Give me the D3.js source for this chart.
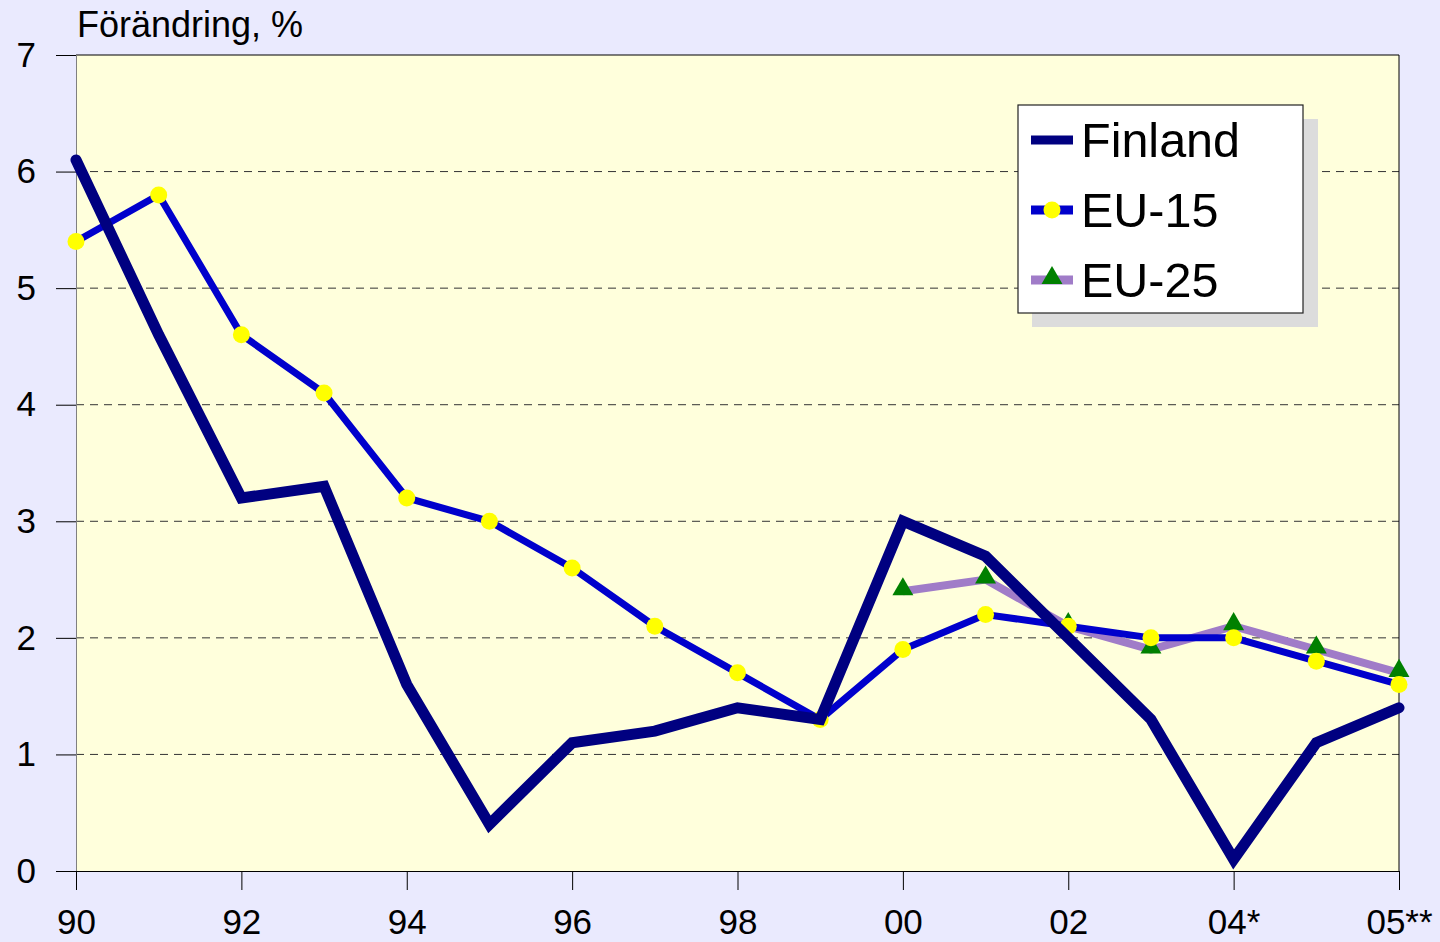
<!DOCTYPE html>
<html>
<head>
<meta charset="utf-8">
<script src="https://cdn.jsdelivr.net/npm/d3@7"></script>
<style>
  body { margin: 0; background: #eaeafe; }
  svg { display: block; font-family: "Liberation Sans", Arial, sans-serif; }
</style>
</head>
<body>
<div class="chart"></div>
<script>
// Data
var years = ["90", "91", "92", "93", "94", "95", "96", "97", "98", "99",
             "00", "01", "02", "03", "04*", "05*", "05**"];
var tickYears = ["90", "92", "94", "96", "98", "00", "02", "04*", "05**"];
var finland = [6.1, 4.6, 3.2, 3.3, 1.6, 0.4, 1.1, 1.2, 1.4, 1.3, 3.0, 2.7, 2.0, 1.3, 0.1, 1.1, 1.4];
var eu15 = [5.4, 5.8, 4.6, 4.1, 3.2, 3.0, 2.6, 2.1, 1.7, 1.3, 1.9, 2.2, 2.1, 2.0, 2.0, 1.8, 1.6];
var eu25 = [null, null, null, null, null, null, null, null, null, null,
            2.4, 2.5, 2.1, 1.9, 2.1, 1.9, 1.7];
var yTicks = [0, 1, 2, 3, 4, 5, 6, 7];

var svgWidth = 1440;
var svgHeight = 942;

var margin = { top: 55, right: 41, bottom: 71, left: 76 };
var width = svgWidth - margin.left - margin.right;
var height = svgHeight - margin.top - margin.bottom;

var svg = d3.select(".chart")
  .append("svg")
  .attr("width", svgWidth)
  .attr("height", svgHeight);

var chartGroup = svg.append("g")
  .attr("transform", `translate(${margin.left}, ${margin.top})`);

// scales
var xScale = d3.scalePoint()
  .domain(years)
  .range([0, width]);

var yScale = d3.scaleLinear()
  .domain([0, 7])
  .range([height, 0]);

// plot background
chartGroup.append("rect")
  .attr("width", width)
  .attr("height", height)
  .attr("fill", "#ffffdc");

// dashed grid lines
chartGroup.append("g")
  .selectAll("line")
  .data(yTicks.filter(d => d > 0 && d < 7))
  .enter()
  .append("line")
  .attr("x1", 0)
  .attr("x2", width)
  .attr("y1", d => yScale(d))
  .attr("y2", d => yScale(d))
  .attr("stroke", "#333")
  .attr("stroke-width", 1)
  .attr("stroke-dasharray", "8,6");

// top and right border
chartGroup.append("line")
  .attr("x1", 0).attr("x2", width)
  .attr("y1", 0).attr("y2", 0)
  .attr("stroke", "#000");
chartGroup.append("line")
  .attr("x1", width).attr("x2", width)
  .attr("y1", 0).attr("y2", height)
  .attr("stroke", "#000");

// y axis
var leftAxis = d3.axisLeft(yScale)
  .tickValues(yTicks)
  .tickSize(20)
  .tickPadding(20)
  .tickFormat(d3.format("d"));

var yAxis = chartGroup.append("g").call(leftAxis);
yAxis.select(".domain").attr("stroke", "#808080");
yAxis.selectAll(".tick line").attr("stroke", "#000");
yAxis.selectAll("text")
  .attr("font-size", 35)
  .attr("fill", "#000")
  .attr("font-family", "Liberation Sans, Arial, sans-serif");

// x axis
var bottomAxis = d3.axisBottom(xScale)
  .tickValues(tickYears)
  .tickSize(19)
  .tickSizeOuter(0)
  .tickPadding(19);

var xAxis = chartGroup.append("g")
  .attr("transform", `translate(0, ${height})`)
  .call(bottomAxis);
xAxis.select(".domain").attr("stroke", "#000");
xAxis.selectAll(".tick line").attr("stroke", "#000");
xAxis.selectAll("text")
  .attr("font-size", 35)
  .attr("fill", "#000")
  .attr("font-family", "Liberation Sans, Arial, sans-serif");

// axis title
svg.append("text")
  .attr("x", 77)
  .attr("y", 37)
  .attr("font-size", 36)
  .attr("fill", "#000")
  .text("Förändring, %");

// lines
var line = function(values) {
  return d3.line()
    .defined(d => d != null)
    .x((d, i) => xScale(years[i]))
    .y(d => yScale(d))(values);
};

// EU-25
chartGroup.append("path")
  .attr("d", line(eu25))
  .attr("fill", "none")
  .attr("stroke", "#a07cc8")
  .attr("stroke-width", 8)
  .attr("stroke-linejoin", "miter");

var triangle = d3.symbol().type(d3.symbolTriangle).size(190);
chartGroup.append("g")
  .selectAll("path")
  .data(eu25.map((d, i) => ({ v: d, i: i })).filter(d => d.v != null))
  .enter()
  .append("path")
  .attr("d", triangle)
  .attr("transform", d => `translate(${xScale(years[d.i])}, ${yScale(d.v) - 2})`)
  .attr("fill", "#008000");

// EU-15
chartGroup.append("path")
  .attr("d", line(eu15))
  .attr("fill", "none")
  .attr("stroke", "#0000cc")
  .attr("stroke-width", 7);

chartGroup.append("g")
  .selectAll("circle")
  .data(eu15)
  .enter()
  .append("circle")
  .attr("cx", (d, i) => xScale(years[i]))
  .attr("cy", d => yScale(d))
  .attr("r", 8.5)
  .attr("fill", "#ffff00");

// Finland
chartGroup.append("path")
  .attr("d", line(finland))
  .attr("fill", "none")
  .attr("stroke", "#000080")
  .attr("stroke-width", 11)
  .attr("stroke-linecap", "round");

// legend
var legend = svg.append("g")
  .attr("transform", "translate(1018, 105)");

legend.append("rect")
  .attr("x", 14).attr("y", 14)
  .attr("width", 286).attr("height", 208)
  .attr("fill", "#dcdcdc");

legend.append("rect")
  .attr("width", 285).attr("height", 208)
  .attr("fill", "#fff")
  .attr("stroke", "#222")
  .attr("stroke-width", 1.2);

var legendItems = [
  { name: "Finland", color: "#000080", w: 9, marker: null },
  { name: "EU-15", color: "#0000cc", w: 9, marker: "circle" },
  { name: "EU-25", color: "#a07cc8", w: 9, marker: "triangle" }
];

legendItems.forEach(function(item, k) {
  var y = 35 + k * 70;
  legend.append("line")
    .attr("x1", 13).attr("x2", 55)
    .attr("y1", y).attr("y2", y)
    .attr("stroke", item.color)
    .attr("stroke-width", item.w);
  if (item.marker === "circle") {
    legend.append("circle")
      .attr("cx", 34).attr("cy", y).attr("r", 8.5)
      .attr("fill", "#ffff00");
  }
  if (item.marker === "triangle") {
    legend.append("path")
      .attr("d", triangle)
      .attr("transform", `translate(34, ${y - 2})`)
      .attr("fill", "#008000");
  }
  legend.append("text")
    .attr("x", 63)
    .attr("y", y + 17)
    .attr("font-size", 48.5)
    .attr("fill", "#000")
    .text(item.name);
});
</script>
</body>
</html>
